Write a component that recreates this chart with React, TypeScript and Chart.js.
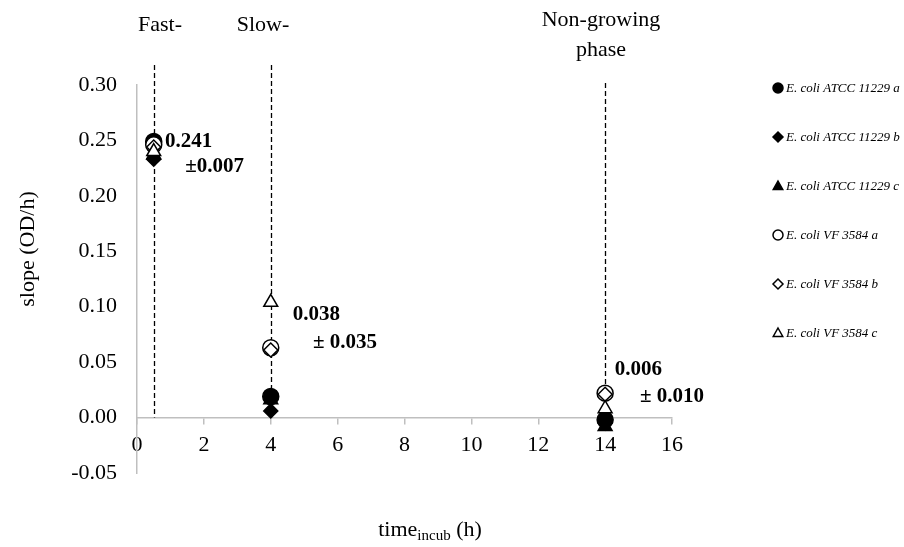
import React, { useEffect, useRef } from "react";
import { Chart, registerables } from "chart.js";

Chart.register(...registerables);

// ---- data ----
const seriesNames = [
  "E. coli ATCC 11229 a",
  "E. coli ATCC 11229 b",
  "E. coli ATCC 11229 c",
  "E. coli VF 3584 a",
  "E. coli VF 3584 b",
  "E. coli VF 3584 c",
];
const times = [0.5, 4, 14];
const atccA = [0.249, 0.019, -0.002];
const atccB = [0.233, 0.006, -0.005];
const atccC = [0.237, 0.016, -0.008];
const vfA = [0.246, 0.063, 0.022];
const vfB = [0.244, 0.061, 0.021];
const vfC = [0.240, 0.104, 0.008];
const seriesValues = [atccA, atccB, atccC, vfA, vfB, vfC];
const seriesShapes = ["circle", "rectRot", "triangle", "circle", "rectRot", "triangle"];
const seriesFilled = [true, true, true, false, false, false];

const phaseTimes = [0.5, 4, 14];
const phaseLabels = [["Fast-"], ["Slow-"], ["Non-growing", "phase"]];

const meanLabels = ["0.241", "0.038", "0.006"];
const sdLabels = ["±0.007", "± 0.035", "± 0.010"];
// anchor positions (data units) for the mean / sd annotations
const meanPosX = [0.84, 4.66, 14.29];
const meanPosY = [0.249, 0.093, 0.043];
const sdPosX = [1.44, 5.26, 15.04];
const sdPosY = [0.226, 0.068, 0.019];

const yTicks = [-0.05, 0, 0.05, 0.1, 0.15, 0.2, 0.25, 0.3];

const SERIF = "'Liberation Serif', 'Times New Roman', serif";

function drawMarker(ctx: CanvasRenderingContext2D, shape: string, filled: boolean, x: number, y: number, r: number) {
  ctx.save();
  ctx.beginPath();
  if (shape === "circle") {
    ctx.arc(x, y, r, 0, Math.PI * 2);
  } else if (shape === "rectRot") {
    ctx.moveTo(x, y - r);
    ctx.lineTo(x + r, y);
    ctx.lineTo(x, y + r);
    ctx.lineTo(x - r, y);
    ctx.closePath();
  } else {
    ctx.moveTo(x, y - r);
    ctx.lineTo(x + r * 0.95, y + r * 0.7);
    ctx.lineTo(x - r * 0.95, y + r * 0.7);
    ctx.closePath();
  }
  ctx.fillStyle = filled ? "#000" : "#fff";
  ctx.fill();
  ctx.lineWidth = 1.5;
  ctx.strokeStyle = "#000";
  ctx.stroke();
  ctx.restore();
}

const overlayPlugin = {
  id: "overlay",
  beforeDatasetsDraw(chart: any) {
    const ctx = chart.ctx as CanvasRenderingContext2D;
    const xs = chart.scales.x;
    const ys = chart.scales.y;
    const y0 = ys.getPixelForValue(0);
    const tops = [65, 65, 83];
    ctx.save();
    ctx.strokeStyle = "#000";
    ctx.lineWidth = 1.3;
    ctx.setLineDash([5, 3]);
    phaseTimes.forEach((t, i) => {
      const px = Math.round(xs.getPixelForValue(t)) + 0.5;
      ctx.beginPath();
      ctx.moveTo(px, tops[i]);
      ctx.lineTo(px, y0);
      ctx.stroke();
    });
    ctx.restore();
  },
  afterDraw(chart: any) {
    const ctx = chart.ctx as CanvasRenderingContext2D;
    const xs = chart.scales.x;
    const ys = chart.scales.y;
    ctx.save();
    ctx.fillStyle = "#000";
    // phase labels
    ctx.font = `22px ${SERIF}`;
    ctx.textAlign = "center";
    ctx.textBaseline = "middle";
    const phaseCx = [160, 263, 601];
    const phaseCy = [25, 25, 20];
    phaseLabels.forEach((lines, i) => {
      lines.forEach((ln, j) => {
        ctx.fillText(ln, phaseCx[i], phaseCy[i] + j * 30);
      });
    });
    // mean/sd annotations
    ctx.font = `bold 21px ${SERIF}`;
    ctx.textAlign = "left";
    meanLabels.forEach((m, i) => {
      ctx.fillText(m, xs.getPixelForValue(meanPosX[i]), ys.getPixelForValue(meanPosY[i]));
      ctx.fillText(sdLabels[i], xs.getPixelForValue(sdPosX[i]), ys.getPixelForValue(sdPosY[i]));
    });
    // y title
    ctx.save();
    ctx.font = `22px ${SERIF}`;
    ctx.translate(28, (chart.chartArea.top + chart.chartArea.bottom) / 2 - 30);
    ctx.rotate(-Math.PI / 2);
    ctx.textAlign = "center";
    ctx.fillText("slope (OD/h)", 0, 0);
    ctx.restore();
    // x title with subscript
    const main = "time";
    const sub = "incub";
    const tail = " (h)";
    ctx.font = `22px ${SERIF}`;
    const w1 = ctx.measureText(main).width;
    const w3 = ctx.measureText(tail).width;
    ctx.font = `15px ${SERIF}`;
    const w2 = ctx.measureText(sub).width;
    const total = w1 + w2 + w3;
    const cx = 430;
    const ty = 530;
    let xx = cx - total / 2;
    ctx.textAlign = "left";
    ctx.font = `22px ${SERIF}`;
    ctx.fillText(main, xx, ty);
    xx += w1;
    ctx.font = `15px ${SERIF}`;
    ctx.fillText(sub, xx, ty + 6);
    xx += w2;
    ctx.font = `22px ${SERIF}`;
    ctx.fillText(tail, xx, ty);
    // legend
    const legX = 778;
    const legY0 = 88;
    const legStep = 49;
    seriesNames.forEach((name, i) => {
      const yy = legY0 + i * legStep;
      drawMarker(ctx, seriesShapes[i], seriesFilled[i], legX, yy, 5);
      ctx.font = `italic 13px ${SERIF}`;
      ctx.fillStyle = "#000";
      ctx.textAlign = "left";
      ctx.textBaseline = "middle";
      ctx.fillText(name, legX + 8, yy + 1);
    });
    ctx.restore();
  },
};

export default function App() {
  const ref = useRef<HTMLCanvasElement | null>(null);
  useEffect(() => {
    document.body.style.margin = "0";
    const canvas = ref.current!;
    const datasets = seriesNames.map((name, i) => ({
      label: name,
      data: times.map((t, k) => ({ x: t, y: seriesValues[i][k] })),
      pointStyle: seriesShapes[i],
      pointRadius: seriesShapes[i] === "rectRot" ? 7 : 8,
      pointBackgroundColor: seriesFilled[i] ? "#000" : "#fff",
      pointBorderColor: "#000",
      pointBorderWidth: 1.5,
      showLine: false,
    }));
    // draw filled series last so they appear on top like the reference
    const order = [5, 4, 3, 2, 1, 0];
    const chart = new Chart(canvas, {
      type: "scatter",
      data: { datasets: order.map((k) => datasets[k]) },
      options: {
        animation: false,
        responsive: false,
        maintainAspectRatio: false,
        layout: { padding: { left: 0, top: 85, right: 232, bottom: 74 } },
        plugins: { legend: { display: false }, tooltip: { enabled: false } },
        scales: {
          x: {
            type: "linear",
            min: 0,
            max: 16,
            position: { y: 0 } as any,
            ticks: {
              stepSize: 2,
              color: "#000",
              font: { family: SERIF, size: 22 },
              padding: 8,
            },
            grid: {
              display: true,
              drawOnChartArea: false,
              drawTicks: true,
              tickLength: 6,
              color: "#bfbfbf",
              lineWidth: 1.5,
            },
            border: { display: true, color: "#bfbfbf", width: 1.5 },
          },
          y: {
            type: "linear",
            min: -0.05,
            max: 0.3,
            afterBuildTicks: (scale: any) => {
              scale.ticks = yTicks.map((v) => ({ value: v }));
            },
            afterFit: (scale: any) => {
              scale.width = 137;
            },
            ticks: {
              color: "#000",
              font: { family: SERIF, size: 22 },
              padding: 20,
              callback: (v: any) => Number(v).toFixed(2),
            },
            grid: { display: false, drawTicks: false },
            border: { display: true, color: "#bfbfbf", width: 1.5 },
          },
        },
      },
      plugins: [overlayPlugin],
    });
    return () => chart.destroy();
  }, []);
  return (
    <div style={{ width: 904, height: 547 }}>
      <canvas ref={ref} width={904} height={547} style={{ display: "block" }} />
    </div>
  );
}
